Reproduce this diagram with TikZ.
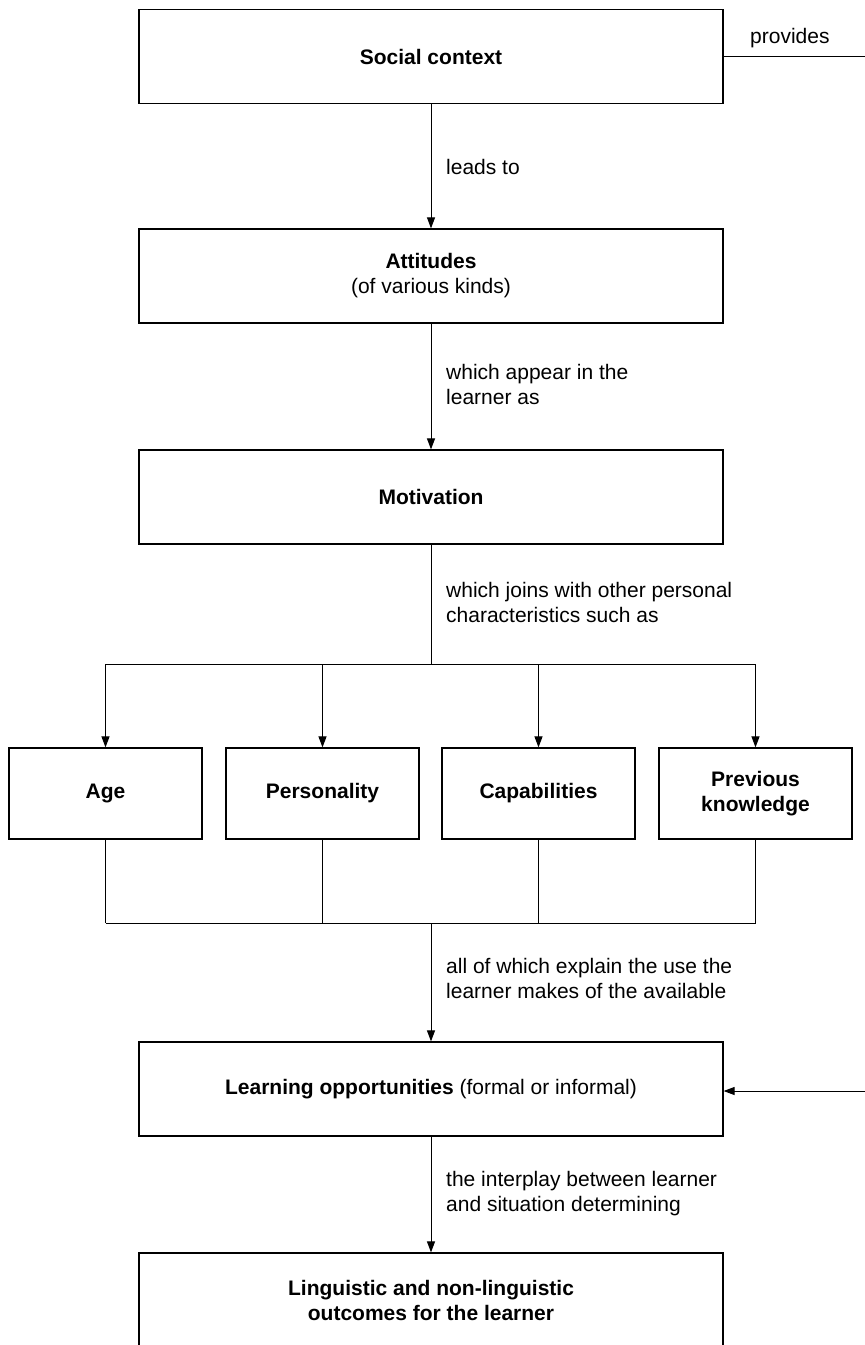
\documentclass[tikz,border=0pt]{standalone}
\usepackage{fontspec}
\setmainfont{Liberation Sans}
\usepackage{tikz}
\usetikzlibrary{arrows.meta,positioning,calc}
\newcommand{\txtsize}{\fontsize{21}{25}\selectfont}

\begin{document}
\begin{tikzpicture}[x=1pt,y=-1pt,
  box/.style={rectangle,draw,line width=1.2pt,minimum width=584pt,minimum height=94pt,align=center,font=\txtsize,inner sep=0pt},
  smallbox/.style={box,minimum width=193pt,minimum height=91pt,font=\txtsize\bfseries},
  lbl/.style={anchor=west,align=left,font=\txtsize,inner sep=0pt},
  line/.style={line width=1pt},
  conn/.style={line,-{Triangle[length=11pt,width=8pt]}}]
\useasboundingbox (0,0) rectangle (865,1345);
% Kette der grossen Kaesten
\node[box,font=\txtsize\bfseries] (social) at (431,56.5) {Social context};
\node[box] (attit) at (431,276) {\textbf{Attitudes}\\(of various kinds)};
\node[box,font=\txtsize\bfseries] (motiv) at (431,497) {Motivation};
% die vier persoenlichen Merkmale
\node[smallbox] (age) at (105.5,793.5) {Age};
\node[smallbox] (pers) at (322.5,793.5) {Personality};
\node[smallbox] (capab) at (538.5,793.5) {Capabilities};
\node[smallbox] (prev) at (755.5,793.5) {Previous\\knowledge};
\node[box] (learn) at (431,1089) {\textbf{Learning opportunities} (formal or informal)};
\begin{scope}
\clip (0,0) rectangle (865,1345);
\node[box,minimum height=95pt,font=\txtsize\bfseries] (outc) at (431,1300.5) {Linguistic and non-linguistic\\outcomes for the learner};
\end{scope}
\coordinate (split) at (431,664);
\coordinate (join) at (431,923);
\coordinate (provEnd) at (865,56.5);
\coordinate (oppIn) at (865,1091);
% Beschriftungen
\node[lbl] (tProv) at (750,38) {provides};
\node[lbl] (tLeads) at (446,167) {leads to};
\node[lbl] (tAppear) at (446,384.5) {which appear in the\\learner as};
\node[lbl] (tJoins) at (446,602.5) {which joins with other personal\\characteristics such as};
\node[lbl] (tExplain) at (446,978) {all of which explain the use the\\learner makes of the available};
\node[lbl] (tInter) at (446,1194) {the interplay between learner\\and situation determining};
% Verbindungen
\draw[conn] (social) -- (attit);
\draw[conn] (attit) -- (motiv);
\draw[line] (motiv) -- (split);
\draw[line] (age.north |- split) -- (prev.north |- split);
\foreach \b in {age,pers,capab,prev}
  \draw[conn] (\b.north |- split) -- (\b.north);
\foreach \b in {age,pers,capab,prev}
  \draw[line] (\b.south) -- (\b.south |- join);
\draw[line] (age.south |- join) -- (prev.south |- join);
\draw[conn] (join) -- (learn);
\draw[conn] (learn) -- (outc);
\draw[line] (social.east) -- (provEnd);
\draw[conn] (oppIn) -- (oppIn -| learn.east);
\end{tikzpicture}
\end{document}
